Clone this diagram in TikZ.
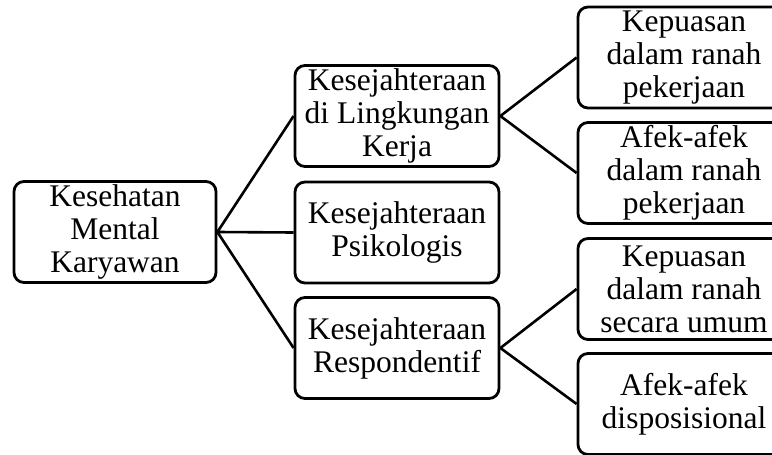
\documentclass[tikz,border=0pt]{standalone}
\usepackage{fontspec}
\setmainfont{Liberation Serif}
\begin{document}
\begin{tikzpicture}[x=1pt,y=-1pt,
  box/.style={draw=black, line width=2.8pt, rounded corners=10pt, fill=white,
    minimum height=101pt, inner sep=0pt, align=center,
    font=\fontsize{31.5}{33}\selectfont},
  midbox/.style={box, minimum width=204pt},
  leafbox/.style={box, minimum width=212pt},
  link/.style={draw=black, line width=2.6pt}]
\useasboundingbox (0,0) rectangle (772,455);
\clip (0,0) rectangle (772,455);
\node[box, minimum width=202pt] (root) at (115,232) {Kesehatan\\Mental\\Karyawan};
\node[midbox] (m1) at (397,116) {Kesejahteraan\\di Lingkungan\\Kerja};
\node[midbox] (m2) at (397,232.5) {Kesejahteraan\\Psikologis};
\node[midbox] (m3) at (397,348) {Kesejahteraan\\Respondentif};
\node[leafbox] (r1) at (684,57.5) {Kepuasan\\dalam ranah\\pekerjaan};
\node[leafbox] (r2) at (684,173) {Afek-afek\\dalam ranah\\pekerjaan};
\node[leafbox] (r3) at (684,289) {Kepuasan\\dalam ranah\\secara umum};
\node[leafbox] (r4) at (684,404) {Afek-afek\\disposisional};
\draw[link] (root.east) -- (m1.west);
\draw[link] (root.east) -- (m2.west);
\draw[link] (root.east) -- (m3.west);
\draw[link] (m1.east) -- (r1.west);
\draw[link] (m1.east) -- (r2.west);
\draw[link] (m3.east) -- (r3.west);
\draw[link] (m3.east) -- (r4.west);
\end{tikzpicture}
\end{document}
